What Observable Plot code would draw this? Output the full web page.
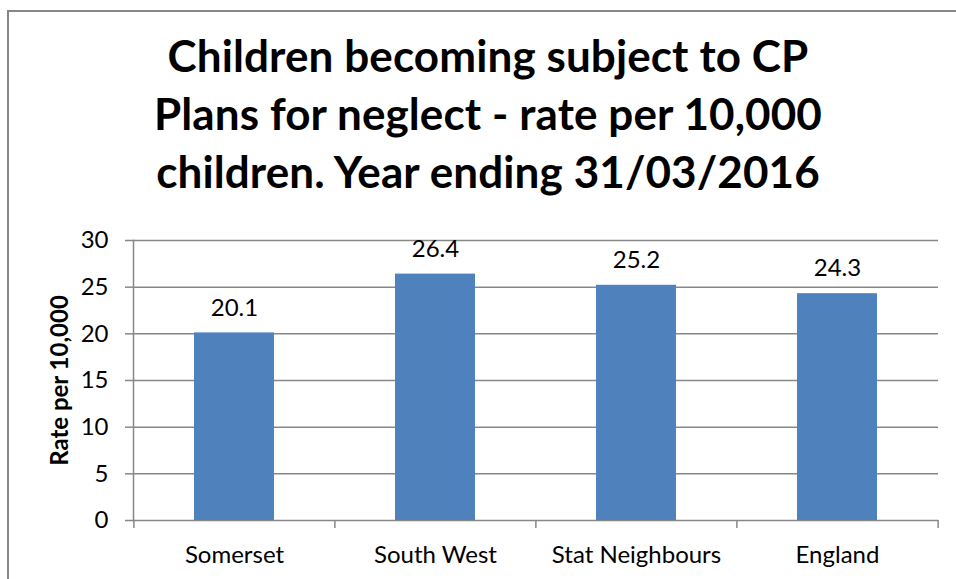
<!DOCTYPE html>
<html>
<head>
<meta charset="utf-8">
<script src="https://cdn.jsdelivr.net/npm/d3@7"></script>
<script src="https://cdn.jsdelivr.net/npm/@observablehq/plot@0.6"></script>
<style>
  html, body { margin: 0; padding: 0; width: 956px; height: 579px; overflow: hidden; background: #fff; }
  body { position: relative; font-family: Lato, "Open Sans", sans-serif; }
  #frame { position: absolute; left: 7px; top: 10px; width: 962px; height: 700px; border: 2px solid #878787; box-sizing: border-box; z-index: 5; }
  #title { position: absolute; left: 8px; top: 26px; width: 960px; text-align: center; font-weight: bold; font-size: 44px; letter-spacing: 0.1px; line-height: 58px; color: #000; }
  #chart { position: absolute; left: 0; top: 215px; }
</style>
</head>
<body>
<div id="frame"></div>
<div id="title">Children becoming subject to CP<br>Plans for neglect - rate per 10,000<br>children. Year ending 31/03/2016</div>
<div id="chart"></div>
<script>
const categories = ["Somerset", "South West", "Stat Neighbours", "England"];
const values = [20.1, 26.4, 25.2, 24.3];
const yTicks = [0, 5, 10, 15, 20, 25, 30];
const yLabel = "Rate per 10,000";

const data = categories.map((c, i) => ({category: c, value: values[i]}));

const W = 956, H = 364, mL = 133, mR = 18, mT = 25, mB = 59;
const step = (W - mL - mR) / categories.length;
const plotH = H - mT - mB;
const grid = "#878787";

const chart = Plot.plot({
  width: W, height: H,
  marginLeft: mL, marginRight: mR, marginTop: mT, marginBottom: mB,
  style: {fontFamily: "Lato, 'Open Sans', sans-serif", color: "#000", background: "transparent"},
  x: {domain: categories, paddingInner: 0.6, paddingOuter: 0.3, label: null},
  y: {domain: [0, 30], label: null},
  marks: [
    Plot.ruleY(yTicks, {stroke: grid, strokeWidth: 1.5}),
    Plot.frame({anchor: "left", stroke: grid, strokeWidth: 1.5}),
    Plot.barY(data, {x: "category", y: "value", fill: "#4F81BD"}),
    Plot.ruleX(categories, {x: d => d, dx: -step / 2, stroke: grid, strokeWidth: 1.5, insetTop: plotH, insetBottom: -8}),
    Plot.ruleX(categories.slice(-1), {x: d => d, dx: step / 2, stroke: grid, strokeWidth: 1.5, insetTop: plotH, insetBottom: -8}),
    Plot.axisY({ticks: yTicks, tickSize: 8, tickPadding: 17, stroke: grid, strokeWidth: 1.5, strokeOpacity: 1, fontSize: 24, fill: "#000", label: null}),
    Plot.axisX({tickSize: 0, tickPadding: 25, fontSize: 24, fill: "#000", label: null}),
    Plot.text(data, {x: "category", y: "value", text: d => d.value.toFixed(1), dy: -25, fontSize: 24, fill: "#000"}),
    Plot.text([yLabel], {frameAnchor: "left", textAnchor: "middle", dx: -73, rotate: -90, fontWeight: "bold", fontSize: 24, fill: "#000"})
  ]
});
document.getElementById("chart").appendChild(chart);
</script>
</body>
</html>
